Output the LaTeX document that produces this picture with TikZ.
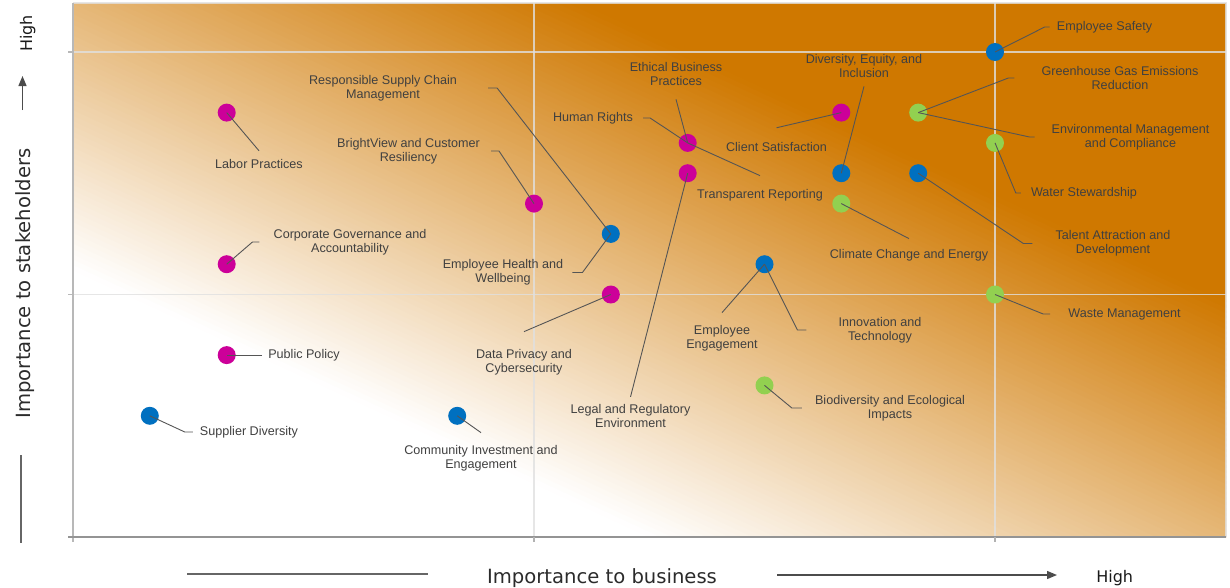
\documentclass[tikz,border=0pt]{standalone}
\usepackage{fontspec}
\setmainfont{Liberation Sans}
\newfontfamily\axisfont{DejaVu Sans}
\usetikzlibrary{calc, arrows.meta, positioning}

\definecolor{matOrange}{RGB}{207,120,0}
\definecolor{matMagenta}{RGB}{204,0,153}
\definecolor{matBlue}{RGB}{0,112,192}
\definecolor{matGreen}{RGB}{146,208,80}
\definecolor{labelGray}{RGB}{64,64,64}
\definecolor{leaderGray}{RGB}{85,85,85}
\definecolor{titleGray}{RGB}{43,43,43}

\begin{document}
\begin{tikzpicture}[
  x=1pt, y=-1pt,
  dot/.style={circle, inner sep=0pt, minimum size=18pt},
  issue/.style={inner sep=0pt, align=center, text=labelGray,
    font=\fontsize{12.6}{14}\selectfont},
  leader/.style={draw=leaderGray, line width=0.9pt},
  gridline/.style={draw=black!12, line width=1.2pt, opacity=0.8},
  axisline/.style={line width=1.2pt},
  axistitle/.style={text=titleGray, inner sep=0pt, font=\axisfont\fontsize{19.6}{22}\selectfont},
  hightitle/.style={text=black!90, inner sep=0pt, font=\axisfont\fontsize{16}{18}\selectfont},
  >={Triangle[length=10pt, width=8pt]}
]

\useasboundingbox (0,0) rectangle (1230,587);

% Background
\begin{scope}[shift={(73,537)}, x=1153pt, y=534pt]
  \clip (0,0) rectangle (1,1);
  \fill[white] (0,0) rectangle (1,1);
  \foreach \i in {0,...,93} {
    \pgfmathsetmacro{\pct}{(\i+0.5)/94*100}
    \pgfmathsetmacro{\bandpos}{0.5+\i*0.01}
    \fill[matOrange!\pct!white] (\bandpos+1,-1) -- (\bandpos-2,2)
      -- (\bandpos-1.985,2) -- (\bandpos+1.015,-1) -- cycle;
  }
  \fill[matOrange] (2.44,-1) -- (-0.56,2) -- (3,2) -- (3,-1) -- cycle;
\end{scope}

% Grid and axes
\draw[gridline] (68,52) -- (1226,52);
\draw[gridline] (68,294.5) -- (1226,294.5);
\draw[gridline] (534,3) -- (534,537);
\draw[gridline] (995,3) -- (995,537);
\draw[gridline] (73,3) -- (1226,3) -- (1226,537);
\draw[axisline, draw=black!28] (73,3) -- (73,542);
\draw[axisline, draw=black!28] (68,52) -- (73,52) (68,294.5) -- (73,294.5);
\draw[axisline, draw=black!42] (68,537) -- (1226,537);
\draw[axisline, draw=black!30] (534,537) -- (534,542) (995,537) -- (995,542);

% Axis titles
\node[axistitle, rotate=90] (stakeholders) at (24.9,283.5) {Importance to stakeholders};
\node[hightitle, rotate=90] (stakeholders_high) at (27.8,33.3) {High};
\node[axistitle] (business) at (602,577.6) {Importance to business};
\node[hightitle] (business_high) at (1114.7,578.5) {High};
\draw[->, draw=black!70, line width=1.3pt] (22.5,110) -- (22.5,76);
\draw[draw=black!60, line width=1.3pt] (21,455) -- (21,543);
\draw[draw=black!60, line width=1.3pt] (187,574) -- (428,574);
\draw[->, draw=black!70, line width=1.3pt] (777,575) -- (1057,575);

% Nodes
\node[dot, fill=matMagenta] (Labor_Practices_pt) at (226.7,112.6) {};
\node[dot, fill=matMagenta] (Corporate_Governance_pt) at (226.7,264.2) {};
\node[dot, fill=matMagenta] (Public_Policy_pt) at (226.7,355.1) {};
\node[dot, fill=matBlue] (Supplier_Diversity_pt) at (149.8,415.8) {};
\node[dot, fill=matMagenta] (BrightView_pt) at (534,203.6) {};
\node[dot, fill=matBlue] (Community_Investment_pt) at (457.2,415.8) {};
\node[dot, fill=matBlue] (Supply_Chain_pt) at (610.8,233.9) {};
\node[dot, fill=matMagenta] (Data_Privacy_pt) at (610.8,294.5) {};
\node[dot, fill=matMagenta] (Ethical_Business_pt) at (687.7,142.9) {};
\node[dot, fill=matMagenta] (Legal_pt) at (687.7,173.2) {};
\node[dot, fill=matBlue] (Employee_Engagement_pt) at (764.5,264.2) {};
\node[dot, fill=matGreen] (Biodiversity_pt) at (764.5,385.4) {};
\node[dot, fill=matMagenta] (Client_Satisfaction_pt) at (841.3,112.6) {};
\node[dot, fill=matBlue] (Diversity_pt) at (841.3,173.2) {};
\node[dot, fill=matGreen] (Climate_pt) at (841.3,203.6) {};
\node[dot, fill=matGreen] (Greenhouse_pt) at (918.2,112.6) {};
\node[dot, fill=matBlue] (Talent_pt) at (918.2,173.2) {};
\node[dot, fill=matBlue] (Employee_Safety_pt) at (995,52) {};
\node[dot, fill=matGreen] (Water_pt) at (995,142.9) {};
\node[dot, fill=matGreen] (Waste_pt) at (995,294.5) {};

\node[issue] (Labor_Practices) at (259,164) {Labor Practices};
\node[issue] (Supply_Chain) at (383,88) {Responsible Supply Chain\\Management};
\node[issue] (BrightView) at (408.5,151) {BrightView and Customer\\Resiliency};
\node[issue] (Corporate_Governance) at (350,242) {Corporate Governance and\\Accountability};
\node[issue] (Human_Rights) at (593,118) {Human Rights};
\node[issue] (Ethical_Business) at (676,74) {Ethical Business\\Practices};
\node[issue] (Transparent_Reporting) at (760,195) {Transparent Reporting};
\node[issue] (Client_Satisfaction) at (776.5,147) {Client Satisfaction};
\node[issue] (Legal) at (630.5,416) {Legal and Regulatory\\Environment};
\node[issue] (Employee_Health) at (503,272.5) {Employee Health and\\Wellbeing};
\node[issue] (Data_Privacy) at (524,362) {Data Privacy and\\Cybersecurity};
\node[issue] (Diversity) at (864,66) {Diversity, Equity, and\\Inclusion};
\node[issue] (Greenhouse) at (1120,78) {Greenhouse Gas Emissions\\Reduction};
\node[issue] (Environmental) at (1130.5,137) {Environmental Management\\and Compliance};
\node[issue] (Employee_Safety) at (1104.5,27) {Employee Safety};
\node[issue] (Water) at (1084,193) {Water Stewardship};
\node[issue] (Talent) at (1113,243.5) {Talent Attraction and\\Development};
\node[issue] (Climate) at (909,255.7) {Climate Change and Energy};
\node[issue] (Waste) at (1124.5,314) {Waste Management};
\node[issue] (Innovation) at (880,330) {Innovation and\\Technology};
\node[issue] (Employee_Engagement) at (722,338) {Employee\\Engagement};
\node[issue] (Biodiversity) at (890,408) {Biodiversity and Ecological\\Impacts};
\node[issue] (Community_Investment) at (481,458) {Community Investment and\\Engagement};
\node[issue] (Public_Policy) at (304,355.1) {Public Policy};
\node[issue] (Supplier_Diversity) at (249,432) {Supplier Diversity};

% Edges
\draw[leader] ([yshift=8.4pt]Labor_Practices.north) -- (Labor_Practices_pt.center);
\draw[leader] ([xshift=31pt]Supply_Chain.east) -- ++(9,0) -- (Supply_Chain_pt.center);
\draw[leader] ([xshift=11pt]BrightView.east) -- ++(8,0) -- (BrightView_pt.center);
\draw[leader] ([xshift=-14pt]Corporate_Governance.west) -- ++(-7,0) -- (Corporate_Governance_pt.center);
\draw[leader] ([xshift=10pt]Human_Rights.east) -- ++(7,0) -- (Ethical_Business_pt.center);
\draw[leader] ([yshift=-13.5pt]Ethical_Business.south) -- (Ethical_Business_pt.center);
\draw[leader] ([yshift=13.3pt]Transparent_Reporting.north) -- (Ethical_Business_pt.center);
\draw[leader] ([yshift=14.4pt]Client_Satisfaction.north) -- (Client_Satisfaction_pt.center);
\draw[leader] ([yshift=7.3pt]Legal.north) -- (Legal_pt.center);
\draw[leader] ([xshift=9pt]Employee_Health.east) -- ++(10,0) -- (Supply_Chain_pt.center);
\draw[leader] ([yshift=17.3pt]Data_Privacy.north) -- (Data_Privacy_pt.center);
\draw[leader] ([yshift=-8.5pt]Diversity.south) -- (Diversity_pt.center);
\draw[leader] ([xshift=-27pt]Greenhouse.west) -- ++(-6,0) -- (Greenhouse_pt.center);
\draw[leader] ([xshift=-17pt]Environmental.west) -- ++(-5,0) -- (Greenhouse_pt.center);
\draw[leader] ([xshift=-7pt]Employee_Safety.west) -- ++(-5,0) -- (Employee_Safety_pt.center);
\draw[leader] ([xshift=-10pt]Water.west) -- ++(-5,0) -- (Water_pt.center);
\draw[leader] ([xshift=-23pt]Talent.west) -- ++(-9,0) -- (Talent_pt.center);
\draw[leader] ([yshift=11pt]Climate.north) -- (Climate_pt.center);
\draw[leader] ([xshift=-18pt]Waste.west) -- ++(-7,0) -- (Waste_pt.center);
\draw[leader] ([xshift=-32pt]Innovation.west) -- ++(-9,0) -- (Employee_Engagement_pt.center);
\draw[leader] ([yshift=12.3pt]Employee_Engagement.north) -- (Employee_Engagement_pt.center);
\draw[leader] ([xshift=-13pt]Biodiversity.west) -- ++(-10,0) -- (Biodiversity_pt.center);
\draw[leader] ([yshift=12.3pt]Community_Investment.north) -- (Community_Investment_pt.center);
\draw[leader] ([xshift=-6pt]Public_Policy.west) -- (Public_Policy_pt.center);
\draw[leader] ([xshift=-7pt]Supplier_Diversity.west) -- ++(-8,0) -- (Supplier_Diversity_pt.center);

\end{tikzpicture}
\end{document}
